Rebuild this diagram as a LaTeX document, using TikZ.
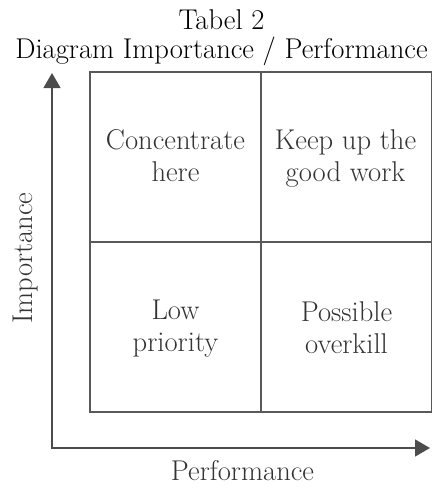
\documentclass[tikz,border=0pt]{standalone}
\usepackage{fontspec}
\usetikzlibrary{arrows.meta}
\tikzset{
  big/.style={font=\fontsize{28.6}{32}\selectfont,inner sep=0pt},
  quad/.style={big,align=center,text=black!80},
  gridline/.style={draw=black!65,line width=1.3pt},
  axis/.style={draw=black!70,line width=1.3pt,{Triangle[length=15pt,width=17pt]}-{Triangle[length=15pt,width=17pt]}}
}
\begin{document}
\begin{tikzpicture}[x=1pt,y=-1pt]
                \useasboundingbox (0,0) rectangle (433,488);
                \node[big,anchor=base] (tabel) at (221.5,29) {Tabel 2};
                \node[big,anchor=base] (title) at (221.5,58) {Diagram Importance / Performance};
                \draw[gridline] (90,72) rectangle (431.8,412);
                \draw[gridline] (261,72) -- (261,412);
                \draw[gridline] (90,242) -- (431.8,242);
                \node[quad] (concentrate) at (175.5,156) {Concentrate\\here};
                \node[quad] (keepup) at (345.5,158) {Keep up the\\good work};
                \node[quad] (lowprio) at (175.5,329) {Low\\priority};
                \node[quad] (overkill) at (346.5,328) {Possible\\overkill};
                \coordinate (origin) at (52,448);
                \coordinate (itip) at (52,73);
                \coordinate (ptip) at (430,448);
                \draw[axis] (itip) -- (origin) -- (ptip);
                \node[big,text=black!80,rotate=90,anchor=base] (importance) at (32,258) {Importance};
                \node[big,text=black!80,anchor=base] (performance) at (242.5,480) {Performance};
            \end{tikzpicture}
\end{document}
